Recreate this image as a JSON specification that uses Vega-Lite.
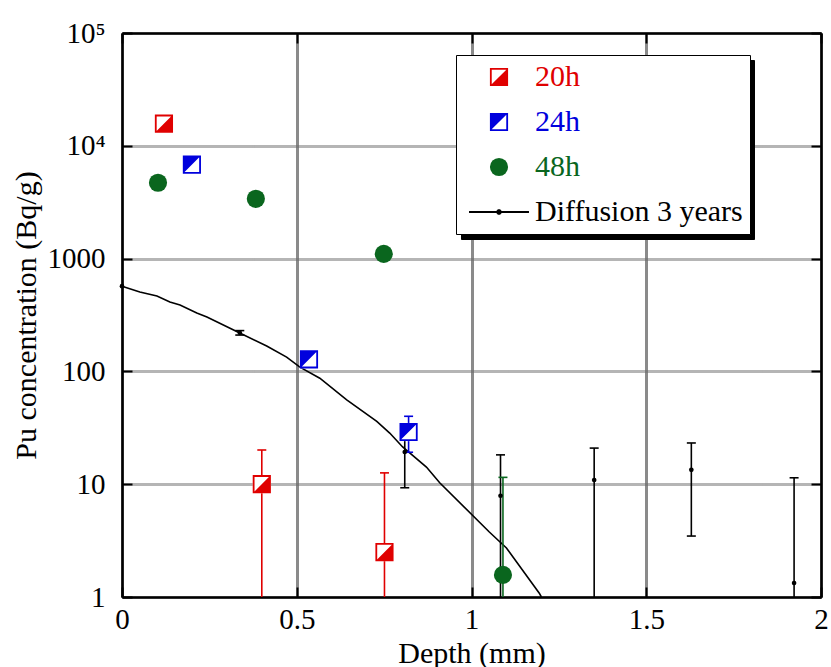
{
  "$schema": "https://vega.github.io/schema/vega-lite/v6.json",
  "width": 699,
  "height": 564,
  "autosize": {"type": "none"},
  "padding": {"left": 122, "top": 33, "right": 10, "bottom": 70},
  "background": "white",
  "config": {
    "view": {"stroke": null},
    "font": "Liberation Serif",
    "axis": {
      "labelFont": "Liberation Serif",
      "titleFont": "Liberation Serif",
      "labelFontSize": 29,
      "titleFontSize": 30,
      "labelColor": "black",
      "titleColor": "black",
      "titleFontWeight": "normal",
      "domainColor": "black",
      "domainWidth": 2.5,
      "tickColor": "black",
      "tickWidth": 2,
      "tickSize": -10,
      "labelFlush": false,
      "labelOverlap": false
    },
    "legend": {
      "labelFont": "Liberation Serif",
      "labelFontSize": 30,
      "titleFont": "Liberation Serif"
    }
  },
  "datasets": {
    "curve": [
      {"depth": 0, "conc": 570},
      {"depth": 0.051, "conc": 506},
      {"depth": 0.1, "conc": 466},
      {"depth": 0.137, "conc": 412},
      {"depth": 0.166, "conc": 388},
      {"depth": 0.214, "conc": 330},
      {"depth": 0.243, "conc": 304},
      {"depth": 0.337, "conc": 219},
      {"depth": 0.414, "conc": 168},
      {"depth": 0.471, "conc": 134},
      {"depth": 0.509, "conc": 109},
      {"depth": 0.566, "conc": 87},
      {"depth": 0.643, "conc": 56},
      {"depth": 0.729, "conc": 36},
      {"depth": 0.766, "conc": 28.4},
      {"depth": 0.803, "conc": 21.4},
      {"depth": 0.871, "conc": 14.2},
      {"depth": 0.909, "conc": 10.3},
      {"depth": 1.051, "conc": 3.77},
      {"depth": 1.1, "conc": 2.72},
      {"depth": 1.194, "conc": 1.08},
      {"depth": 1.2, "conc": 1.0}
    ],
    "pts": [
      {"series": "20h", "depth": 0.12, "conc": 15700},
      {"series": "20h", "depth": 0.4, "conc": 10, "lo": 1, "hi": 20.1},
      {"series": "20h", "depth": 0.751, "conc": 2.5, "lo": 1, "hi": 12.6},
      {"series": "24h", "depth": 0.2, "conc": 6800},
      {"series": "24h", "depth": 0.535, "conc": 128},
      {"series": "24h", "depth": 0.82, "conc": 29, "lo": 19.2, "hi": 40},
      {"series": "48h", "depth": 0.103, "conc": 4700},
      {"series": "48h", "depth": 0.383, "conc": 3390},
      {"series": "48h", "depth": 0.749, "conc": 1100},
      {"series": "48h", "depth": 1.09, "conc": 1.57, "lo": 1, "hi": 11.5},
      {"series": "Diffusion 3 years", "depth": 0, "conc": 570},
      {"series": "Diffusion 3 years", "depth": 0.337, "conc": 220, "lo": 210, "hi": 230},
      {"series": "Diffusion 3 years", "depth": 0.809, "conc": 19.3, "lo": 9.3, "hi": 29},
      {"series": "Diffusion 3 years", "depth": 1.083, "conc": 7.9, "lo": 1, "hi": 18.2},
      {"series": "Diffusion 3 years", "depth": 1.351, "conc": 10.9, "lo": 1, "hi": 20.9},
      {"series": "Diffusion 3 years", "depth": 1.629, "conc": 13.4, "lo": 3.47, "hi": 23.2},
      {"series": "Diffusion 3 years", "depth": 1.923, "conc": 1.33, "lo": 1, "hi": 11.4}
    ]
  },
  "layer": [
    {
      "data": {"name": "curve"},
      "mark": {"type": "line", "color": "black", "strokeWidth": 1.6},
      "encoding": {
        "x": {
          "field": "depth", "type": "quantitative",
          "scale": {"domain": [0, 2], "nice": false, "zero": false},
          "axis": {"orient": "bottom", "values": [0, 0.5, 1, 1.5, 2], "format": ".1~f", "grid": true, "gridColor": "#8a8a8a", "gridWidth": 3, "labelPadding": 18, "title": "Depth (mm)", "titlePadding": 4}
        },
        "y": {
          "field": "conc", "type": "quantitative",
          "scale": {"type": "log", "domain": [1, 100000], "nice": false},
          "axis": {"orient": "left", "values": [1, 10, 100, 1000, 10000, 100000], "labelExpr": "datum.value == 10000 ? '10⁴' : datum.value == 100000 ? '10⁵' : format(datum.value, 'd')", "grid": true, "gridColor": "#6a6a6a", "gridWidth": 3, "gridDash": [1, 1], "labelPadding": 27, "title": "Pu concentration (Bq/g)", "titlePadding": 6}
        }
      }
    },
    {
      "data": {"name": "pts"},
      "transform": [{"filter": "isValid(datum.hi)"}],
      "mark": {"type": "rule", "strokeWidth": 1.6},
      "encoding": {
        "x": {"field": "depth", "type": "quantitative", "axis": null},
        "y": {"field": "lo", "type": "quantitative", "scale": {"type": "log"}, "axis": null},
        "y2": {"field": "hi"},
        "stroke": {"field": "series", "type": "nominal", "legend": null, "scale": {"domain": ["Diffusion 3 years", "48h", "24h", "20h"], "range": ["#000000", "#0a661e", "#0000dd", "#e00000"]}}
      }
    },
    {
      "data": {"name": "pts"},
      "transform": [{"filter": "isValid(datum.hi)"}],
      "mark": {"type": "tick", "orient": "horizontal", "size": 9, "thickness": 1.6, "opacity": 1},
      "encoding": {
        "x": {"field": "depth", "type": "quantitative", "axis": null},
        "y": {"field": "hi", "type": "quantitative", "scale": {"type": "log"}, "axis": null},
        "fill": {"field": "series", "type": "nominal", "legend": null, "scale": {"domain": ["48h", "Diffusion 3 years", "20h", "24h"], "range": ["#0a661e", "#000000", "#e00000", "#0000dd"]}}
      }
    },
    {
      "data": {"name": "pts"},
      "transform": [{"filter": "isValid(datum.lo) && datum.lo > 1"}],
      "mark": {"type": "tick", "orient": "horizontal", "size": 9, "thickness": 1.6, "opacity": 1},
      "encoding": {
        "x": {"field": "depth", "type": "quantitative", "axis": null},
        "y": {"field": "lo", "type": "quantitative", "scale": {"type": "log"}, "axis": null},
        "fill": {"field": "series", "type": "nominal", "legend": null}
      }
    },
    {
      "data": {"name": "pts"},
      "transform": [{"filter": "datum.series == '20h' || datum.series == '24h'"}],
      "mark": {"type": "point", "shape": "square", "filled": true, "color": "white", "size": 330, "opacity": 1, "strokeWidth": 0},
      "encoding": {
        "x": {"field": "depth", "type": "quantitative", "axis": null},
        "y": {"field": "conc", "type": "quantitative", "scale": {"type": "log"}, "axis": null},
        "strokeDash": {
          "field": "series", "type": "nominal",
          "scale": {"domain": ["24h", "20h", "Diffusion 3 years", "48h"], "range": [[1, 0], [1, 0], [1, 0], [1, 0]]},
          "legend": {
            "orient": "none", "legendX": 339, "legendY": 27, "title": null, "zindex": 1,
            "fillColor": "black", "strokeColor": "black", "padding": 7,
            "symbolOffset": 249, "labelOffset": 0, "rowPadding": 15, "symbolSize": 330, "clipHeight": 30,
            "symbolStrokeColor": "black", "symbolFillColor": "black", "symbolOpacity": 0,
            "labelExpr": "''", "labelFontSize": 30, "labelColor": "black"
          }
        }
      }
    },
    {
      "data": {"name": "pts"},
      "transform": [{"filter": "datum.series != 'Diffusion 3 years'"}],
      "mark": {"type": "point", "filled": true, "size": 330, "opacity": 1},
      "encoding": {
        "x": {"field": "depth", "type": "quantitative", "axis": {"orient": "top", "values": [0, 0.5, 1, 1.5, 2], "labels": false, "title": null, "grid": false}},
        "y": {"field": "conc", "type": "quantitative", "scale": {"type": "log"}, "axis": {"orient": "right", "values": [1, 10, 100, 1000, 10000, 100000], "labels": false, "title": null, "grid": false}},
        "color": {
          "field": "series", "type": "nominal",
          "scale": {"domain": ["20h", "24h", "48h", "Diffusion 3 years"], "range": ["#e00000", "#0000dd", "#0a661e", "#000000"]},
          "legend": {
            "orient": "none", "legendX": 334, "legendY": 22, "title": null, "zindex": 2,
            "fillColor": "white", "strokeColor": "black", "padding": 7,
            "symbolOffset": 21, "labelOffset": 21, "rowPadding": 15, "symbolSize": 330,
            "labelFont": "Liberation Serif", "labelFontSize": 30, "labelLimit": 400,
            "labelColor": {"expr": "datum.label == '20h' ? '#e00000' : datum.label == '24h' ? '#0000dd' : datum.label == '48h' ? '#0a661e' : '#000000'"}
          }
        },
        "shape": {
          "field": "series", "type": "nominal",
          "scale": {"domain": ["20h", "24h", "48h", "Diffusion 3 years"], "range": [
            "M-1,-1H1V1H-1ZM-0.8,-0.8V0.8H0.8V-0.8ZM1,-1L1,1L-1,1Z",
            "M-1,-1H1V1H-1ZM-0.8,-0.8V0.8H0.8V-0.8ZM-1,-1L1,-1L-1,1Z",
            "circle",
            "M-3.3,-0.1H3.3V0.1H-3.3ZM-0.3,-0.12L-0.12,-0.3L0.12,-0.3L0.3,-0.12L0.3,0.12L0.12,0.3L-0.12,0.3L-0.3,0.12Z"
          ]}
        }
      }
    },
    {
      "data": {"name": "pts"},
      "transform": [{"filter": "datum.series == 'Diffusion 3 years'"}],
      "mark": {"type": "point", "shape": "circle", "filled": true, "color": "black", "size": 22, "opacity": 1},
      "encoding": {
        "x": {"field": "depth", "type": "quantitative", "axis": null},
        "y": {"field": "conc", "type": "quantitative", "scale": {"type": "log"}, "axis": null}
      }
    }
  ],
  "resolve": {"axis": {"x": "independent", "y": "independent"}}
}
